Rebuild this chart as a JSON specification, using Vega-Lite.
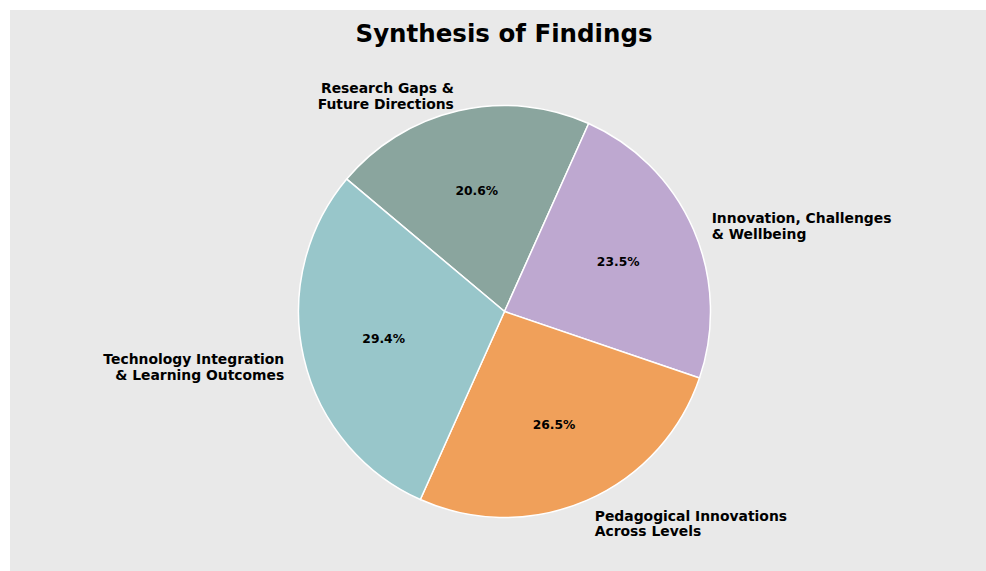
{
  "$schema": "https://vega.github.io/schema/vega-lite/v6.json",
  "autosize": {"type": "none"},
  "width": 976,
  "height": 561,
  "padding": {"left": 10, "top": 10, "right": 0, "bottom": 0},
  "background": "white",
  "view": {"fill": "#e9e9e9", "stroke": null},
  "title": {
    "text": "Synthesis of Findings",
    "font": "DejaVu Sans",
    "fontSize": 24.5,
    "fontWeight": "bold",
    "color": "black",
    "anchor": "middle",
    "baseline": "alphabetic",
    "offset": -56,
    "dx": 6
  },
  "config": {
    "text": {"font": "DejaVu Sans"}
  },
  "data": {
    "values": [
      {"category": "Research Gaps &\nFuture Directions", "value": 7, "order": 1, "pct": "20.6%"},
      {"category": "Innovation, Challenges\n& Wellbeing", "value": 8, "order": 2, "pct": "23.5%"},
      {"category": "Pedagogical Innovations\nAcross Levels", "value": 9, "order": 3, "pct": "26.5%"},
      {"category": "Technology Integration\n& Learning Outcomes", "value": 10, "order": 4, "pct": "29.4%"}
    ]
  },
  "encoding": {
    "theta": {"field": "value", "type": "quantitative", "stack": true, "scale": {"range": [-0.8727, 5.4105]}},
    "order": {"field": "order", "type": "quantitative"},
    "color": {
      "field": "category",
      "type": "nominal",
      "legend": null,
      "scale": {
        "domain": ["Research Gaps &\nFuture Directions", "Innovation, Challenges\n& Wellbeing", "Pedagogical Innovations\nAcross Levels", "Technology Integration\n& Learning Outcomes"],
        "range": ["#8aa59e", "#bea8d0", "#f0a05a", "#98c6ca"]
      }
    }
  },
  "layer": [
    {
      "mark": {"type": "arc", "outerRadius": 206, "stroke": "white", "strokeWidth": 1.5, "x": {"expr": "width/2 + 6.5"}, "y": {"expr": "height/2 + 21"}}
    },
    {
      "mark": {"type": "text", "radius": 124, "fontSize": 12.3, "fontWeight": "bold", "baseline": "middle", "align": "center", "x": {"expr": "width/2 + 6.5"}, "y": {"expr": "height/2 + 21"}},
      "encoding": {
        "text": {"field": "pct", "type": "nominal"},
        "color": {"value": "black"}
      }
    },
    {
      "mark": {"type": "text", "radius": 226, "fontSize": 13.9, "fontWeight": "bold", "baseline": "middle", "align": "left", "lineBreak": "\n", "lineHeight": 15.5, "x": {"expr": "width/2 + 6.5"}, "y": {"expr": "height/2 + 19"}},
      "encoding": {
        "text": {"condition": {"test": "datum.order == 2 || datum.order == 3", "field": "category"}, "value": ""},
        "color": {"value": "black"}
      }
    },
    {
      "mark": {"type": "text", "radius": 226, "fontSize": 13.9, "fontWeight": "bold", "baseline": "middle", "align": "right", "lineBreak": "\n", "lineHeight": 15.5, "x": {"expr": "width/2 + 6.5"}, "y": {"expr": "height/2 + 19"}},
      "encoding": {
        "text": {"condition": {"test": "datum.order == 1 || datum.order == 4", "field": "category"}, "value": ""},
        "color": {"value": "black"}
      }
    }
  ]
}
